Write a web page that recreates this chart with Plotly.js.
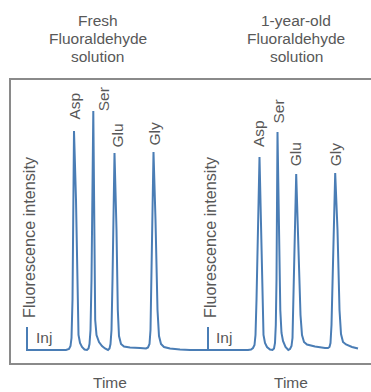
<!DOCTYPE html>
<html>
<head>
<meta charset="utf-8">
<script src="https://cdn.plot.ly/plotly-3.0.1.min.js"></script>
<style>html,body{margin:0;padding:0;background:#fff;}#chart{width:371px;height:392px;}</style>
</head>
<body>
<div id="chart"></div>
<script>
// Fresh Fluoraldehyde solution chromatogram (time, fluorescence intensity; arbitrary units)
var freshTime = [17, 17, 56, 59, 60.5, 61.5, 62.5, 64, 66, 67.5, 68.5, 70, 72, 74.5, 77, 78.5, 79.5, 80.5, 81.5, 83.3, 84.5, 85.2, 86.5, 89, 92, 95, 98, 99.5, 100.5, 101.5, 102.5, 104.5, 106.5, 107.8, 109, 111, 114, 120, 130, 136, 138, 139.5, 140.5, 141.5, 143.5, 145.5, 147.5, 149, 151, 154, 160, 170, 180, 198];
var freshIntensity = [23, 0, 0, 1, 4, 12, 50, 219, 150, 50, 15, 7, 3, 0.5, 0, 1.5, 6, 20, 70, 239, 100, 30, 15, 8, 4, 1.5, 0, 1.5, 6, 20, 70, 197, 120, 40, 14, 6, 3.5, 2.5, 2, 1.5, 2.5, 6, 20, 70, 198, 130, 40, 14, 6, 3, 1.5, 0.5, 0, 0];

// 1-year-old Fluoraldehyde solution chromatogram
var oldTime = [198, 198, 238, 241, 243, 244.5, 245.5, 246.5, 249.5, 251, 252.5, 253.5, 255, 257, 260, 262.5, 264, 265, 265.8, 266.5, 267.5, 269, 270.3, 271.5, 273, 275.5, 278.3, 280, 281.5, 282.5, 283.5, 286.2, 288.5, 290.5, 292, 294, 297, 305, 315, 318, 319.5, 320.5, 321.5, 322.5, 325.2, 327.5, 329.5, 331, 333, 336, 342, 348];
var oldIntensity = [23, 0, 0, 0.5, 2, 5, 15, 50, 193, 120, 40, 15, 7, 3, 0.5, 0, 1.5, 7, 25, 70, 218, 120, 40, 17, 9, 3, 0, 1, 4, 12, 50, 176, 100, 35, 15, 8, 5.5, 3.5, 2, 2, 3, 7, 25, 70, 177, 120, 40, 16, 8, 5.5, 3, 1.5];

// Peak labels and apex positions
var peakNames = ['Asp', 'Ser', 'Glu', 'Gly'];
var freshPeakTime = [64, 83.3, 104.5, 143.5];
var freshPeakIntensity = [219, 239, 197, 198];
var oldPeakTime = [249.5, 267.5, 286.2, 325.2];
var oldPeakIntensity = [193, 218, 176, 177];

var injTime = [17, 198];
var injIntensity = [23, 23];

var panelTitles = [['Fresh', 'Fluoraldehyde', 'solution'], ['1-year-old', 'Fluoraldehyde', 'solution']];
var yLabel = 'Fluorescence intensity';
var xLabel = 'Time';
var injLabel = 'Inj';

var lineColor = '#4a7db5';
var textColor = '#585858';
var fontFam = '"Liberation Sans", Arial, Helvetica, sans-serif';

var traces = [
  {x: freshTime, y: freshIntensity, type: 'scatter', mode: 'lines', line: {color: lineColor, width: 2}, hoverinfo: 'skip'},
  {x: oldTime, y: oldIntensity, type: 'scatter', mode: 'lines', line: {color: lineColor, width: 2}, hoverinfo: 'skip'}
];

var ann = [];
function txt(x, y, text, opts) {
  var a = {x: x, y: y, xref: 'x', yref: 'y', text: text, showarrow: false,
    font: {family: fontFam, size: 15.5, color: textColor}, xanchor: 'center', yanchor: 'middle'};
  for (var k in opts) a[k] = opts[k];
  ann.push(a);
}

// peak label offsets (label placement only)
var freshShift = [[0, 9], [10, -2], [2, 3], [0, 4]];
var oldShift = [[-1, 8], [0, 6], [-1, 6], [0, 5]];
for (var i = 0; i < peakNames.length; i++) {
  txt(freshPeakTime[i], freshPeakIntensity[i], peakNames[i], {textangle: -90, yanchor: 'bottom', xshift: freshShift[i][0], yshift: freshShift[i][1]});
  txt(oldPeakTime[i], oldPeakIntensity[i], peakNames[i], {textangle: -90, yanchor: 'bottom', xshift: oldShift[i][0], yshift: oldShift[i][1]});
}

// y labels
txt(19, 113, yLabel, {textangle: -90, font: {family: fontFam, size: 16.2, color: textColor}});
txt(200, 113, yLabel, {textangle: -90, font: {family: fontFam, size: 16.2, color: textColor}});
// Inj labels
txt(injTime[0] + 17, 12.5, injLabel, {});
txt(injTime[1] + 16, 12.5, injLabel, {});
// Time labels (paper coords, below plot)
txt(0.275, -0.069, xLabel, {xref: 'paper', yref: 'paper'});
txt(0.778, -0.069, xLabel, {xref: 'paper', yref: 'paper'});
// Panel titles (paper coords, above plot)
var titleX = [0.2403, 0.7917];
var titleY = [1.2085, 1.1449, 1.0848];
for (var p = 0; p < 2; p++) {
  for (var l = 0; l < 3; l++) {
    txt(titleX[p], titleY[l], panelTitles[p][l], {xref: 'paper', yref: 'paper'});
  }
}

var layout = {
  width: 371, height: 392,
  margin: {l: 11, r: 0, t: 80, b: 29, pad: 0},
  paper_bgcolor: '#ffffff', plot_bgcolor: '#ffffff',
  showlegend: false,
  xaxis: {range: [1, 361], showline: true, mirror: true, linecolor: '#8a8a8a', linewidth: 2,
    showgrid: false, zeroline: false, showticklabels: false, ticks: '', fixedrange: true},
  yaxis: {range: [-13, 270], showline: true, mirror: false, linecolor: '#8a8a8a', linewidth: 2,
    showgrid: false, zeroline: false, showticklabels: false, ticks: '', fixedrange: true},
  annotations: ann
};

Plotly.newPlot('chart', traces, layout, {displayModeBar: false, staticPlot: true});
</script>
</body>
</html>
